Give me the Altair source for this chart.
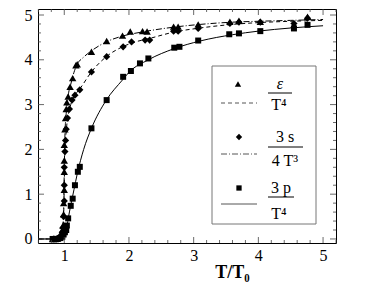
import altair as alt
import pandas as pd

W, H = 298, 234
XDOM = [0.594, 5.2]
YDOM = [-0.09, 5.134]
SERIF = "Liberation Serif"

# ---- data: energy density eps/T^4 (triangles)
tri_T = [0.82, 0.86, 0.90, 0.93, 0.95, 0.97, 0.98, 0.99, 0.99, 1.00, 1.00, 1.00, 1.00, 1.01, 1.02,
         1.03, 1.04, 1.06, 1.09, 1.13, 1.18, 1.20, 1.42, 1.655, 1.90, 2.02, 2.21, 2.28, 2.69, 2.76,
         3.07, 3.56, 3.70, 4.03, 4.55, 4.76]
tri_Y = [0.0, 0.0, 0.02, 0.05, 0.10, 0.20, 0.30, 0.55, 0.80, 1.10, 1.50, 1.75, 2.10, 2.45, 2.70,
         2.90, 3.05, 3.18, 3.40, 3.59, 3.88, 3.90, 4.18, 4.42, 4.54, 4.63, 4.64, 4.63, 4.74, 4.74,
         4.79, 4.85, 4.87, 4.85, 4.78, 4.96]
# ---- entropy 3s/4T^3 (diamonds)
dia_T = [0.84, 0.88, 0.92, 0.95, 0.97, 0.98, 0.99, 1.00, 1.00, 1.00, 1.01, 1.02, 1.03, 1.05, 1.08,
         1.12, 1.165, 1.24, 1.42, 1.655, 1.91, 2.04, 2.25, 2.32, 2.69, 2.76, 3.07, 3.56, 3.70, 4.03,
         4.55, 4.76]
dia_Y = [0.0, 0.0, 0.03, 0.08, 0.15, 0.25, 0.50, 0.85, 1.20, 1.60, 1.95, 2.20, 2.45, 2.70, 2.90,
         3.10, 3.21, 3.33, 3.73, 4.07, 4.29, 4.40, 4.44, 4.44, 4.64, 4.64, 4.70, 4.81, 4.84, 4.84,
         4.81, 4.93]
# ---- pressure 3p/T^4 (squares)
sq_T = [0.82, 0.86, 0.90, 0.94, 0.97, 0.99, 1.01, 1.03, 1.04, 1.06, 1.10, 1.13, 1.165, 1.21, 1.24,
        1.42, 1.655, 1.91, 2.03, 2.17, 2.30, 2.70, 2.78, 3.07, 3.55, 3.70, 4.03, 4.55, 4.76]
sq_Y = [0.0, 0.0, 0.0, 0.02, 0.05, 0.10, 0.15, 0.20, 0.30, 0.46, 0.74, 0.90, 1.20, 1.50, 1.61,
        2.47, 3.10, 3.62, 3.75, 3.92, 4.03, 4.27, 4.29, 4.43, 4.57, 4.59, 4.64, 4.70, 4.78]

# ---- fitted curves
eps_cT = [0.6, 0.9, 0.95, 0.98, 1.0, 1.01, 1.03, 1.06, 1.1, 1.15, 1.2, 1.3, 1.42, 1.65, 1.9, 2.2,
          2.7, 3.1, 3.6, 4.0, 4.5, 5.0]
eps_cY = [0.0, 0.0, 0.05, 0.3, 1.5, 2.3, 2.8, 3.2, 3.45, 3.72, 3.9, 4.06, 4.2, 4.4, 4.53, 4.62,
          4.73, 4.79, 4.84, 4.86, 4.88, 4.9]
ent_cT = [0.6, 0.9, 0.97, 0.99, 1.0, 1.01, 1.03, 1.06, 1.1, 1.17, 1.24, 1.42, 1.65, 1.9, 2.1, 2.3,
          2.7, 3.1, 3.6, 4.0, 4.5, 5.0]
ent_cY = [0.0, 0.0, 0.1, 0.5, 1.2, 1.9, 2.4, 2.75, 3.0, 3.22, 3.35, 3.73, 4.07, 4.29, 4.4, 4.47,
          4.62, 4.71, 4.79, 4.83, 4.86, 4.88]
prs_cT = [0.6, 0.9, 1.0, 1.03, 1.06, 1.1, 1.15, 1.2, 1.3, 1.42, 1.65, 1.9, 2.0, 2.3, 2.7, 3.1,
          3.6, 4.0, 4.5, 5.0]
prs_cY = [0.0, 0.0, 0.08, 0.2, 0.45, 0.75, 1.1, 1.45, 2.0, 2.47, 3.1, 3.55, 3.72, 4.0, 4.25, 4.42,
          4.56, 4.64, 4.71, 4.76]

# ---- axis ticks
x_major = [1, 2, 3, 4, 5]
x_minor = [0.6, 0.8, 1.2, 1.4, 1.6, 1.8, 2.2, 2.4, 2.6, 2.8, 3.2, 3.4, 3.6, 3.8, 4.2, 4.4, 4.6,
           4.8, 5.2]
y_major = [0, 1, 2, 3, 4, 5]
y_minor = [0.2, 0.4, 0.6, 0.8, 1.2, 1.4, 1.6, 1.8, 2.2, 2.4, 2.6, 2.8, 3.2, 3.4, 3.6, 3.8, 4.2,
           4.4, 4.6, 4.8]

xs = alt.Scale(domain=XDOM, nice=False, zero=False)
ys = alt.Scale(domain=YDOM, nice=False, zero=False)

xaxis = alt.Axis(values=x_major, ticks=False, domain=False, grid=False, format="d",
                 labelFont=SERIF, labelFontSize=16, labelColor="black", labelPadding=4,
                 title="T/T₀", titleFont=SERIF, titleFontWeight="bold", titleFontSize=18,
                 titleColor="black", titleX=194, titleY=34, titleAlign="center",
                 titleBaseline="alphabetic")
yaxis = alt.Axis(values=y_major, ticks=False, domain=False, grid=False, format="d",
                 labelFont=SERIF, labelFontSize=16, labelColor="black", labelPadding=6,
                 title=None)

X = alt.X("T:Q", scale=xs, axis=xaxis)
Y = alt.Y("Y:Q", scale=ys, axis=yaxis)


def curve(T, V, dash):
    df = pd.DataFrame({"T": T, "Y": V})
    kw = dict(color="black", strokeWidth=1, interpolate="monotone", clip=True)
    if dash:
        kw["strokeDash"] = dash
    return alt.Chart(df).mark_line(**kw).encode(x=X, y=Y)


def points(T, V, shape, size):
    df = pd.DataFrame({"T": T, "Y": V})
    return alt.Chart(df).mark_point(shape=shape, size=size, filled=True, color="black",
                                    opacity=1).encode(x=X, y=Y)


layers = [
    curve(eps_cT, eps_cY, [6, 2, 1, 2]),
    curve(ent_cT, ent_cY, [4, 3]),
    curve(prs_cT, prs_cY, None),
    points(tri_T, tri_Y, "triangle-up", 55),
    points(dia_T, dia_Y, "diamond", 52),
    points(sq_T, sq_Y, "square", 36),
]

# inside ticks drawn from tick-value lists
def xticks(vals, ln):
    df = pd.DataFrame({"T": vals})
    b = alt.Chart(df).mark_rule(color="#444", strokeWidth=0.8)
    return [b.encode(x=X, y=alt.value(H), y2=alt.value(H - ln)),
            b.encode(x=X, y=alt.value(0), y2=alt.value(ln))]


def yticks(vals, ln):
    df = pd.DataFrame({"Y": vals})
    b = alt.Chart(df).mark_rule(color="#444", strokeWidth=0.8)
    return [b.encode(y=Y, x=alt.value(0), x2=alt.value(ln)),
            b.encode(y=Y, x=alt.value(W), x2=alt.value(W - ln))]


layers += xticks(x_major, 6) + xticks(x_minor, 3) + yticks(y_major, 6) + yticks(y_minor, 3)

# ---- legend box (custom, drawn in pixel space)
leg = alt.Chart(pd.DataFrame({"k": [0]}))
layers.append(leg.mark_rect(fill="white", stroke="#777", strokeWidth=1).encode(
    x=alt.value(174), x2=alt.value(278), y=alt.value(57), y2=alt.value(215)))

sym = [("triangle-up", 200, 75, 40), ("diamond", 201, 128, 40), ("square", 201, 179, 28)]
for shp, px, py, sz in sym:
    layers.append(leg.mark_point(shape=shp, size=sz, filled=True, color="black", opacity=1)
                  .encode(x=alt.value(px), y=alt.value(py)))

line_styles = [(94, [4, 3]), (145, [6, 2, 1, 2]), (195, None)]
for ly, dash in line_styles:
    kw = dict(color="#555", strokeWidth=1)
    if dash:
        kw["strokeDash"] = dash
    layers.append(leg.mark_rule(**kw).encode(x=alt.value(183), x2=alt.value(219),
                                            y=alt.value(ly)))

bars = [(84, 230, 254), (138, 230, 265), (188, 230, 256)]
for by, bx1, bx2 in bars:
    layers.append(leg.mark_rule(color="black", strokeWidth=1).encode(
        x=alt.value(bx1), x2=alt.value(bx2), y=alt.value(by)))

texts = [("ε", 242, 80, "italic"), ("T⁴", 241, 101, "normal"),
         ("3 s", 247, 133, "normal"), ("4 T³", 247, 157, "normal"),
         ("3 p", 243, 184, "normal"), ("T⁴", 241, 210, "normal")]
for t, tx, ty, st in texts:
    layers.append(leg.mark_text(text=t, font=SERIF, fontSize=16, fontStyle=st, color="black",
                                align="center", baseline="alphabetic")
                  .encode(x=alt.value(tx), y=alt.value(ty)))

chart = alt.layer(*layers).properties(
    width=W, height=H,
    autosize=alt.AutoSizeParams(type="none"),
    padding={"left": 30, "top": 1, "right": 10, "bottom": 40},
).configure_view(stroke="black", strokeWidth=1)

chart.save("out.html", embed_options={"renderer": "svg", "actions": False})
